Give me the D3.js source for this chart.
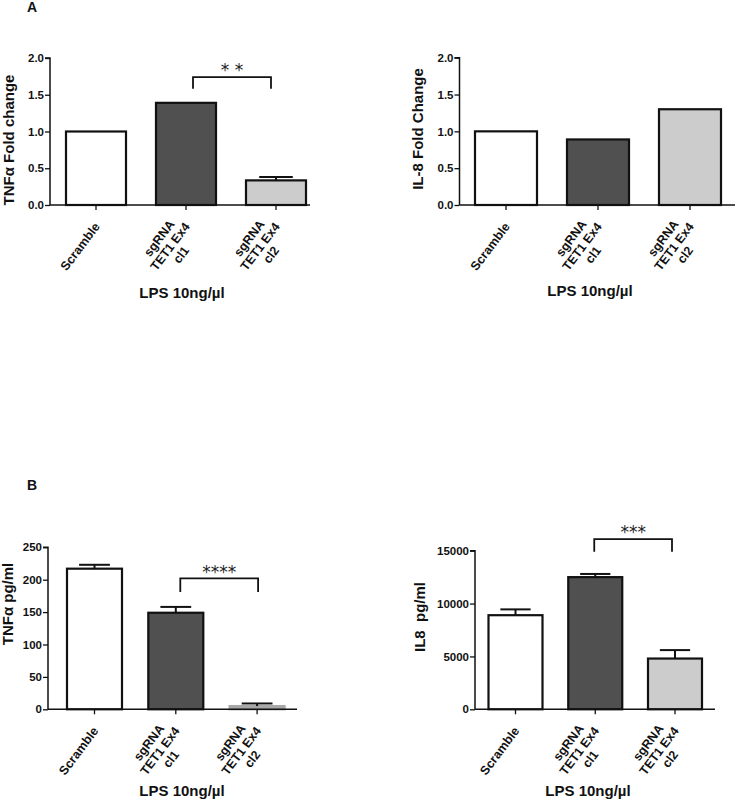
<!DOCTYPE html>
<html>
<head>
<meta charset="utf-8">
<script src="https://cdn.jsdelivr.net/npm/d3@7"></script>
<style>
  html, body { margin: 0; padding: 0; background: #ffffff; }
  svg { display: block; }
</style>
</head>
<body>
<svg id="chart" width="736" height="800"></svg>
<script>
// ---------------- DATA ----------------
const categories = [["Scramble"], ["sgRNA", "TET1 Ex4", "cl1"], ["sgRNA", "TET1 Ex4", "cl2"]];

const tnfFoldValues = [1.0, 1.39, 0.335];
const tnfFoldErrors = [0, 0, 0.045];

const il8FoldValues = [1.0, 0.89, 1.30];
const il8FoldErrors = [0, 0, 0];

const tnfPgValues = [217, 149, 5];
const tnfPgErrors = [6, 9, 4];

const il8PgValues = [8900, 12500, 4800];
const il8PgErrors = [550, 300, 800];

const foldTicks = [0, 0.5, 1.0, 1.5, 2.0];
const tnfPgTicks = [0, 50, 100, 150, 200, 250];
const il8PgTicks = [0, 5000, 10000, 15000];

const xAxisTitle = "LPS 10ng/µl";
const panelLetters = ["A", "B"];

// significance: [fromIndex, toIndex, label, bracketLevel, legLevel, labelLevel]
const tnfFoldSig = [1, 2, "* *", 1.74, 1.58, 1.89];
const tnfPgSig = [1, 2, "****", 202, 181, 218];
const il8PgSig = [1, 2, "***", 16100, 14900, 17100];

// ---------------- STYLE ----------------
const barFills = ["#ffffff", "#505050", "#cccccc"];
const tinyBarFill = "#a8a8a8";
const FONT = "'Liberation Sans', Arial, Helvetica, sans-serif";
const STAR_FONT = "'DejaVu Sans', sans-serif";
const LABEL_ANGLE = -53;

const svg = d3.select("#chart");

function drawPanel(cfg) {
  const g = svg.append("g");
  const y = d3.scaleLinear().domain(cfg.domain).range([cfg.yBottom, cfg.yTop]);
  const r0 = cfg.c0 - cfg.step / 2;
  const pad = 1 - cfg.barW / cfg.step;
  const x = d3.scaleBand()
    .domain(d3.range(categories.length))
    .range([r0, r0 + cfg.step * categories.length])
    .paddingInner(pad)
    .paddingOuter(pad / 2);

  // bars
  cfg.values.forEach((v, i) => {
    const tiny = (cfg.yBottom - y(v)) < 6;
    g.append("rect")
      .attr("x", x(i))
      .attr("y", y(v))
      .attr("width", x.bandwidth())
      .attr("height", cfg.yBottom - y(v))
      .attr("fill", tiny ? tinyBarFill : barFills[i])
      .attr("stroke", tiny ? tinyBarFill : "#111")
      .attr("stroke-width", 2.2);
  });

  // error bars (upper only)
  cfg.values.forEach((v, i) => {
    const e = cfg.errors[i];
    if (!e) return;
    const cx = x(i) + x.bandwidth() / 2;
    const capW = x.bandwidth() * 0.56;
    g.append("line")
      .attr("x1", cx).attr("x2", cx)
      .attr("y1", y(v)).attr("y2", y(v + e))
      .attr("stroke", "#111").attr("stroke-width", 2);
    g.append("line")
      .attr("x1", cx - capW / 2).attr("x2", cx + capW / 2)
      .attr("y1", y(v + e)).attr("y2", y(v + e))
      .attr("stroke", "#111").attr("stroke-width", 2);
  });

  // y axis
  const yAxis = d3.axisLeft(y).tickValues(cfg.ticks).tickFormat(cfg.fmt).tickSize(5).tickPadding(1);
  const ya = g.append("g").attr("transform", `translate(${cfg.x0},0)`).call(yAxis);
  ya.select(".domain").attr("stroke", "#111").attr("stroke-width", 1.5).attr("d", `M-5,${cfg.yTop}H0V${cfg.yBottom}`);
  ya.selectAll(".tick line").attr("stroke", "#111").attr("stroke-width", 1.3);
  ya.selectAll(".tick text")
    .attr("font-family", FONT).attr("font-weight", "bold").attr("font-size", 11.5).attr("fill", "#111");

  // x axis line
  g.append("line")
    .attr("x1", cfg.x0).attr("x2", cfg.xEnd)
    .attr("y1", cfg.yBottom).attr("y2", cfg.yBottom)
    .attr("stroke", "#111").attr("stroke-width", 1.5);

  // x ticks & labels
  categories.forEach((lines, i) => {
    const cx = x(i) + x.bandwidth() / 2;
    g.append("line")
      .attr("x1", cx).attr("x2", cx)
      .attr("y1", cfg.yBottom).attr("y2", cfg.yBottom + 5)
      .attr("stroke", "#111").attr("stroke-width", 1.3);
    const lg = g.append("g")
      .attr("transform", `translate(${cx + 1},${cfg.yBottom + 19}) rotate(${LABEL_ANGLE})`);
    const texts = lines.map((t, k) => lg.append("text")
      .attr("font-family", FONT).attr("font-weight", "bold").attr("font-size", 12.5)
      .attr("fill", "#111")
      .attr("text-anchor", "middle")
      .attr("dy", ((k - (lines.length - 1) / 2) * 1.1 + 0.35) + "em")
      .text(t));
    const maxW = d3.max(texts, t => t.node().getComputedTextLength());
    texts.forEach(t => t.attr("x", -maxW / 2));
  });

  // y label
  g.append("text")
    .attr("transform", `translate(${cfg.yLabelX},${cfg.yLabelY}) rotate(-90)`)
    .attr("text-anchor", "middle")
    .attr("dy", "0.35em")
    .attr("font-family", FONT).attr("font-weight", "bold").attr("font-size", 15)
    .attr("fill", "#111")
    .attr("xml:space", "preserve")
    .style("white-space", "pre")
    .text(cfg.yLabel);

  // x title
  g.append("text")
    .attr("x", cfg.xTitleX).attr("y", cfg.xTitleY)
    .attr("text-anchor", "middle")
    .attr("font-family", FONT).attr("font-weight", "bold").attr("font-size", 15)
    .attr("fill", "#111")
    .text(xAxisTitle);

  // significance
  if (cfg.sig) {
    const [a, b, label, lvl, leg, lab] = cfg.sig;
    const xa = x(a) + x.bandwidth() / 2 + cfg.sigInset[0];
    const xb = x(b) + x.bandwidth() / 2 + cfg.sigInset[1];
    g.append("path")
      .attr("d", `M${xa},${y(leg)}V${y(lvl)}H${xb}V${y(leg)}`)
      .attr("fill", "none").attr("stroke", "#111").attr("stroke-width", 1.8);
    g.append("text")
      .attr("x", (xa + xb) / 2).attr("y", y(lab) + 10)
      .attr("text-anchor", "middle")
      .attr("font-family", STAR_FONT).attr("font-size", 17)
      .attr("fill", "#222")
      .attr("xml:space", "preserve")
      .style("white-space", "pre")
      .text(label);
  }
}

const fmt1 = d3.format(".1f");
const fmt0 = d3.format("d");

drawPanel({
  values: tnfFoldValues, errors: tnfFoldErrors, ticks: foldTicks, fmt: fmt1, domain: [0, 2],
  x0: 50, yTop: 58, yBottom: 205, xEnd: 310, c0: 96, step: 90, barW: 60,
  yLabel: "TNFα Fold change", yLabelX: 9, yLabelY: 140,
  xTitleX: 182, xTitleY: 298, sig: tnfFoldSig, sigInset: [7, -5]
});
drawPanel({
  values: il8FoldValues, errors: il8FoldErrors, ticks: foldTicks, fmt: fmt1, domain: [0, 2],
  x0: 459.5, yTop: 57.7, yBottom: 205, xEnd: 735, c0: 506, step: 92, barW: 62,
  yLabel: "IL-8 Fold Change", yLabelX: 418, yLabelY: 129,
  xTitleX: 590, xTitleY: 296, sig: null
});
drawPanel({
  values: tnfPgValues, errors: tnfPgErrors, ticks: tnfPgTicks, fmt: fmt0, domain: [0, 250],
  x0: 48, yTop: 547.3, yBottom: 709.3, xEnd: 297, c0: 94.5, step: 81.3, barW: 55,
  yLabel: "TNFα pg/ml", yLabelX: 8, yLabelY: 604,
  xTitleX: 182, xTitleY: 796, sig: tnfPgSig, sigInset: [4.5, 1]
});
drawPanel({
  values: il8PgValues, errors: il8PgErrors, ticks: il8PgTicks, fmt: fmt0, domain: [0, 15000],
  x0: 475, yTop: 550.7, yBottom: 709.3, xEnd: 715, c0: 515.5, step: 79.75, barW: 54,
  yLabel: "IL8  pg/ml", yLabelX: 420, yLabelY: 617,
  xTitleX: 588, xTitleY: 796, sig: il8PgSig, sigInset: [-1, -3]
});

// panel letters
svg.append("text").attr("x", 27).attr("y", 12)
  .attr("font-family", FONT).attr("font-weight", "bold").attr("font-size", 14).attr("fill", "#111")
  .text(panelLetters[0]);
svg.append("text").attr("x", 27).attr("y", 490)
  .attr("font-family", FONT).attr("font-weight", "bold").attr("font-size", 14).attr("fill", "#111")
  .text(panelLetters[1]);
</script>
</body>
</html>
